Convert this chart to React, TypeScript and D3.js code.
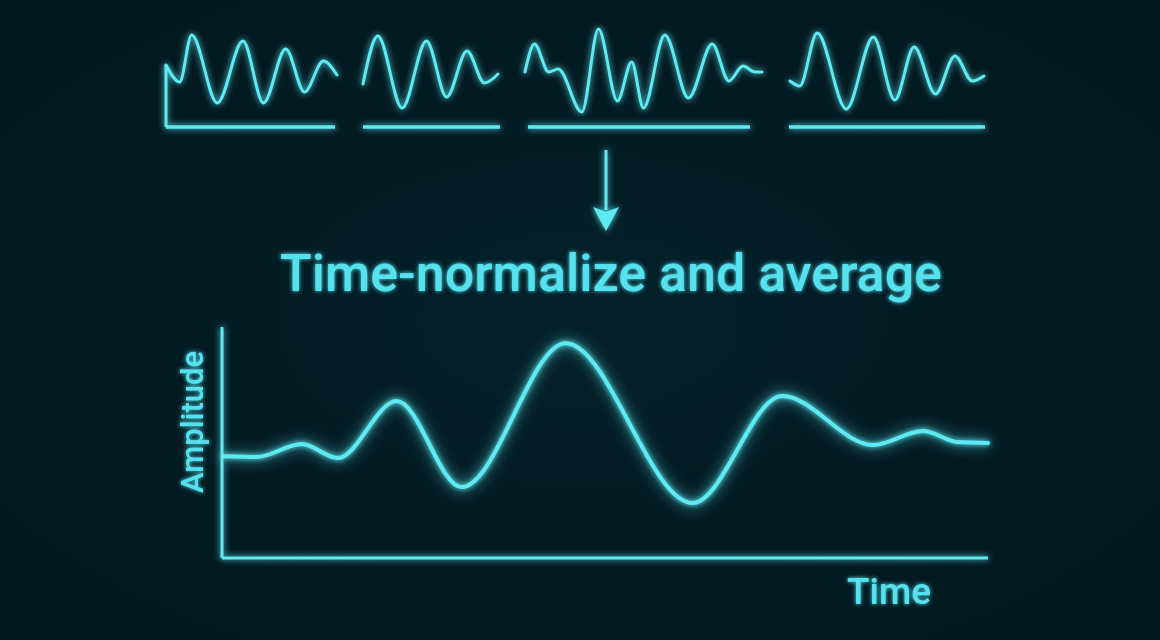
import * as d3 from "d3";

const W = 1160;
const H = 640;

const CYAN = "#5eeaf2";
const TEXT = "#55e2ee";

// four raw trials: [time %, amplitude]
const trial1 = [
  [0, 62], [8, 45], [15, 92], [30, 24], [45, 86], [57, 24],
  [70, 78], [81, 35], [92, 66], [100, 52],
];
const trial2 = [
  [0, 43], [11, 91], [29, 19], [47, 86], [62, 30], [77, 76],
  [90, 44], [100, 53],
];
const trial3 = [
  [0, 55], [4, 83], [10, 55], [14, 58], [24, 15], [31, 98], [39, 26],
  [45, 65], [50, 19], [59, 92], [69, 29], [79, 83], [86, 46], [92, 61],
  [97, 55], [100, 55],
];
const trial4 = [
  [0, 46], [5, 41], [14, 94], [29, 18], [43, 90], [54, 27], [64, 80],
  [75, 33], [85, 71], [94, 46], [100, 51],
];

// averaged, time-normalized waveform
const averaged = [
  [0, 44], [4.4, 43.7], [10.3, 49.4], [15, 43.3], [22.7, 68], [31.2, 30.7],
  [44.8, 93], [61.4, 23.8], [73.1, 70.1], [85, 48.9], [91.5, 55],
  [96, 50.2], [100, 49.8],
];

const TITLE = "Time-normalize and average";
const X_LABEL = "Time";
const Y_LABEL = "Amplitude";

// panel placement for the small trials
const PANELS = [
  { data: trial1, x0: 166, x1: 337, ax0: 166, ax1: 335, yAxis: true },
  { data: trial2, x0: 363, x1: 498, ax0: 363, ax1: 500, yAxis: false },
  { data: trial3, x0: 525, x1: 762, ax0: 528, ax1: 750, yAxis: false },
  { data: trial4, x0: 790, x1: 984, ax0: 789, ax1: 985, yAxis: false },
];

const ySmall = d3.scaleLinear().domain([0, 100]).range([127, 27]);

const xMain = d3.scaleLinear().domain([0, 100]).range([223, 988]);
const yMain = d3.scaleLinear().domain([0, 100]).range([558, 327]);

const SmallTrial = ({ p }: { p: (typeof PANELS)[number] }) => {
  const x = d3.scaleLinear().domain([0, 100]).range([p.x0, p.x1]);
  const line = d3
    .line<number[]>()
    .x((d) => x(d[0]))
    .y((d) => ySmall(d[1]))
    .curve(d3.curveMonotoneX);
  const first = p.data[0];
  return (
    <g filter="url(#glowSmall)">
      <line
        x1={p.ax0}
        x2={p.ax1}
        y1={ySmall(0)}
        y2={ySmall(0)}
        stroke={CYAN}
        strokeWidth={3.5}
      />
      {p.yAxis && (
        <line
          x1={p.ax0}
          x2={p.ax0}
          y1={ySmall(0)}
          y2={ySmall(first[1])}
          stroke={CYAN}
          strokeWidth={3}
        />
      )}
      <path
        d={line(p.data) || ""}
        fill="none"
        stroke={CYAN}
        strokeWidth={3}
        strokeLinecap="round"
      />
    </g>
  );
};

export default function App() {
  const mainLine = d3
    .line<number[]>()
    .x((d) => xMain(d[0]))
    .y((d) => yMain(d[1]))
    .curve(d3.curveMonotoneX);

  const [ax0] = xMain.range();
  const [yBottom, yTop] = yMain.range();
  const axisLeft = ax0 - 1;
  const axisRight = xMain.range()[1];

  const arrowX = 606;

  return (
    <svg
      width={W}
      height={H}
      style={{ position: "absolute", left: 0, top: 0, display: "block" }}
    >
      <defs>
        <radialGradient id="bg" cx="50%" cy="50%" r="70%">
          <stop offset="0%" stopColor="#04212a" />
          <stop offset="100%" stopColor="#02171e" />
        </radialGradient>
        <filter id="glowSmall" x="-10%" y="-30%" width="120%" height="160%">
          <feGaussianBlur in="SourceGraphic" stdDeviation="3" result="b" />
          <feMerge>
            <feMergeNode in="b" />
            <feMergeNode in="SourceGraphic" />
          </feMerge>
        </filter>
        <filter id="glowMain" x="-10%" y="-30%" width="120%" height="160%">
          <feGaussianBlur in="SourceGraphic" stdDeviation="7" result="b1" />
          <feGaussianBlur in="SourceGraphic" stdDeviation="2.5" result="b2" />
          <feMerge>
            <feMergeNode in="b1" />
            <feMergeNode in="b2" />
            <feMergeNode in="SourceGraphic" />
          </feMerge>
        </filter>
        <filter id="glowText" x="-10%" y="-30%" width="120%" height="160%">
          <feGaussianBlur in="SourceGraphic" stdDeviation="2" result="b" />
          <feMerge>
            <feMergeNode in="b" />
            <feMergeNode in="SourceGraphic" />
          </feMerge>
        </filter>
      </defs>

      <rect width={W} height={H} fill="url(#bg)" />

      {PANELS.map((p, i) => (
        <SmallTrial key={i} p={p} />
      ))}

      {/* arrow */}
      <g filter="url(#glowSmall)" fill={CYAN} stroke="none">
        <rect x={arrowX - 1.5} y={150} width={3} height={60} />
        <path
          d={`M${arrowX - 13},207 L${arrowX},212 L${arrowX + 13},207 L${arrowX},231 Z`}
        />
      </g>

      <text
        x={611}
        y={291}
        textAnchor="middle"
        fontFamily="Roboto, 'Noto Sans', sans-serif"
        fontWeight={500}
        fontSize={52}
        fill={TEXT}
        filter="url(#glowText)"
      >
        {TITLE}
      </text>

      {/* main averaged chart */}
      <g filter="url(#glowSmall)" stroke={CYAN} strokeWidth={3}>
        <line x1={axisLeft} x2={axisLeft} y1={yTop} y2={yBottom} />
        <line x1={axisLeft} x2={axisRight} y1={yBottom} y2={yBottom} />
      </g>
      <path
        d={mainLine(averaged) || ""}
        fill="none"
        stroke={CYAN}
        strokeWidth={4}
        strokeLinecap="round"
        filter="url(#glowMain)"
      />

      <text
        transform={`translate(203, 422) rotate(-90)`}
        textAnchor="middle"
        fontFamily="Roboto, 'Noto Sans', sans-serif"
        fontWeight={500}
        fontSize={31}
        fill={TEXT}
        filter="url(#glowText)"
      >
        {Y_LABEL}
      </text>
      <text
        x={889}
        y={604}
        textAnchor="middle"
        fontFamily="Roboto, 'Noto Sans', sans-serif"
        fontWeight={500}
        fontSize={37}
        fill={TEXT}
        filter="url(#glowText)"
      >
        {X_LABEL}
      </text>
    </svg>
  );
}
